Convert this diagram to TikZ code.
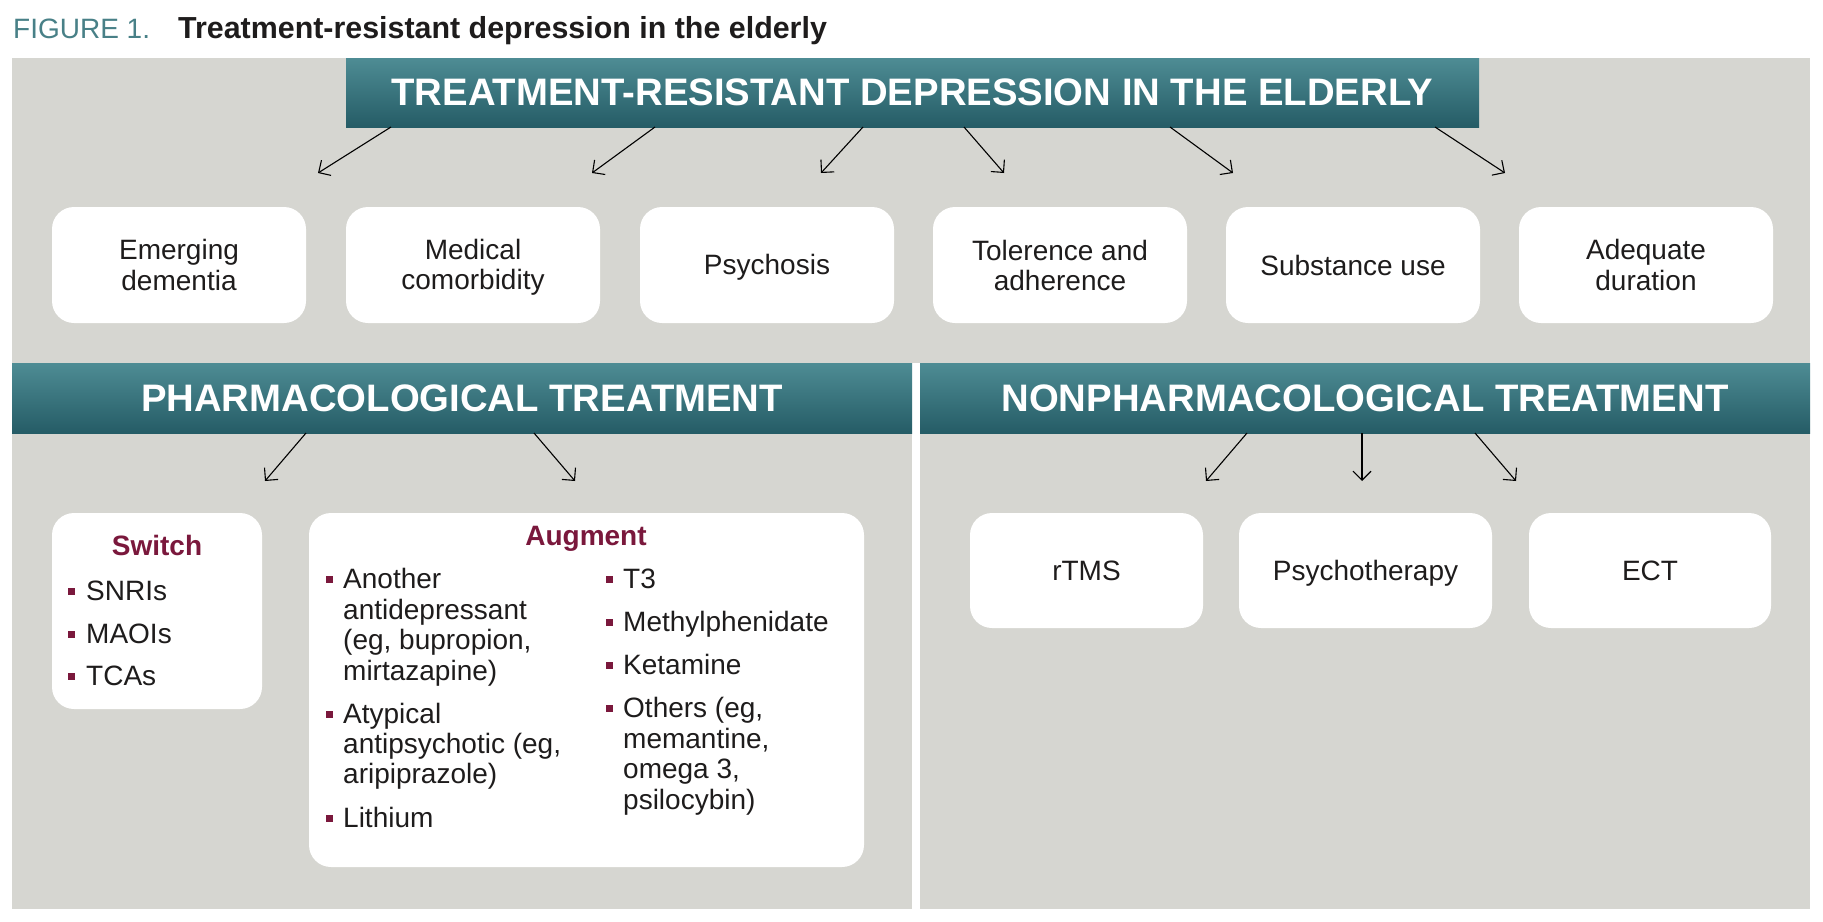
\documentclass[tikz,border=0pt]{standalone}
\usepackage{fontspec}
\setmainfont{Liberation Sans}
\usetikzlibrary{arrows.meta}
\definecolor{panelgray}{RGB}{214,214,209}
\definecolor{tealtop}{RGB}{78,140,148}
\definecolor{tealbot}{RGB}{37,92,102}
\definecolor{figteal}{RGB}{72,128,135}
\definecolor{maroonx}{RGB}{122,24,60}
\definecolor{ink}{RGB}{30,28,28}
\newcommand{\mystrut}{\rule[-5pt]{0pt}{30pt}}
\begin{document}
\begin{tikzpicture}[x=1pt,y=-1pt,
  banner/.style={rectangle, top color=tealtop, bottom color=tealbot, text=white,
    font=\fontsize{38.3}{42}\selectfont\bfseries, inner sep=0pt},
  card/.style={rectangle, rounded corners=22pt, fill=white, inner sep=0pt, text=ink,
    font=\fontsize{28}{30}\selectfont, align=center},
  conn/.style={draw=black, line width=1.1pt, -{Straight Barb[length=9pt,width=18pt]}},
  head/.style={anchor=base, inner sep=0pt, text=maroonx, font=\fontsize{28}{30}\selectfont\bfseries},
  itemtxt/.style={anchor=base west, inner sep=0pt, text=ink, font=\fontsize{28}{30}\selectfont},
  bul/.style={rectangle, fill=maroonx, minimum size=7pt, inner sep=0pt}
]
\useasboundingbox (0,0) rectangle (1823,921);
\fill[white] (0,0) rectangle (1823,921);
% title
\node[anchor=base west, inner sep=0pt, text=figteal, font=\fontsize{28}{30}\selectfont] (figlab) at (13,38) {FIGURE 1.};
\node[anchor=base west, inner sep=0pt, text=ink, font=\fontsize{30.4}{32}\selectfont\bfseries] (figtitle) at (178,38) {Treatment-resistant depression in the elderly};
% panel
\fill[panelgray] (12,58) rectangle (1810,909);
\fill[white] (912,363) rectangle (920,909);
% top banner
\node[banner, minimum width=1133pt, minimum height=69pt] (trd) at (912.5,92.5) {TREATMENT-RESISTANT DEPRESSION IN THE ELDERLY};
% six factor cards
\node[card, minimum width=254pt, minimum height=116pt] (c1) at (179,265) {\mystrut Emerging\\\mystrut dementia};
\node[card, minimum width=254pt, minimum height=116pt] (c2) at (473,265) {\mystrut Medical\\\mystrut comorbidity};
\node[card, minimum width=254pt, minimum height=116pt] (c3) at (767,265) {\mystrut Psychosis};
\node[card, minimum width=254pt, minimum height=116pt] (c4) at (1060,265) {\mystrut Tolerence and\\\mystrut adherence};
\node[card, minimum width=254pt, minimum height=116pt] (c5) at (1353,265) {\mystrut Substance use};
\node[card, minimum width=254pt, minimum height=116pt] (c6) at (1646,265) {\mystrut Adequate\\\mystrut duration};
% top arrows
\coordinate (s1) at (391,127); \coordinate (e1) at (318,173);
\coordinate (s2) at (655,127); \coordinate (e2) at (592,173);
\coordinate (s3) at (863,127); \coordinate (e3) at (821,173);
\coordinate (s4) at (964,127); \coordinate (e4) at (1004,173);
\coordinate (s5) at (1170,127); \coordinate (e5) at (1233,173);
\coordinate (s6) at (1435,127); \coordinate (e6) at (1505,173);
\foreach \i in {1,...,6} {\draw[conn] (s\i) -- (e\i);}
% second row banners
\node[banner, minimum width=900pt, minimum height=70pt] (pharm) at (462,398) {PHARMACOLOGICAL TREATMENT};
\node[banner, minimum width=890pt, minimum height=70pt] (nonpharm) at (1365,398) {NONPHARMACOLOGICAL TREATMENT};
% arrows from banners
\coordinate (ps1) at (306,433); \coordinate (pe1) at (265,481);
\coordinate (ps2) at (534,433); \coordinate (pe2) at (575,481);
\coordinate (ns1) at (1247,433); \coordinate (ne1) at (1206,481);
\coordinate (ns2) at (1362,433); \coordinate (ne2) at (1362,481);
\coordinate (ns3) at (1475,433); \coordinate (ne3) at (1516,481);
\draw[conn] (ps1) -- (pe1);
\draw[conn] (ps2) -- (pe2);
\draw[conn] (ns1) -- (ne1);
\draw[conn] (ns2) -- (ne2);
\draw[conn] (ns3) -- (ne3);
% pharmacological boxes
\node[card, minimum width=210pt, minimum height=196pt] (switch) at (157,611) {};
\node[card, minimum width=555pt, minimum height=354pt] (augment) at (586.5,690) {};
\node[head] (swh) at (157,555) {Switch};
\node[head] (augh) at (586,545) {Augment};
% switch items
\node[bul] (sb1) at (71,591) {}; \node[itemtxt] (st1) at (86,600) {SNRIs};
\node[bul] (sb2) at (71,634) {}; \node[itemtxt] (st2) at (86,643) {MAOIs};
\node[bul] (sb3) at (71,676) {}; \node[itemtxt] (st3) at (86,685) {TCAs};
% augment left column
\node[bul] (ab1) at (329,579) {}; \node[itemtxt] (at1) at (343,588) {Another};
\node[itemtxt] (at1b) at (343,619) {antidepressant};
\node[itemtxt] (at1c) at (343,649) {(eg, bupropion,};
\node[itemtxt] (at1d) at (343,680) {mirtazapine)};
\node[bul] (ab2) at (329,714) {}; \node[itemtxt] (at2) at (343,723) {Atypical};
\node[itemtxt] (at2b) at (343,753) {antipsychotic (eg,};
\node[itemtxt] (at2c) at (343,783) {aripiprazole)};
\node[bul] (ab3) at (329,818) {}; \node[itemtxt] (at3) at (343,827) {Lithium};
% augment right column
\node[bul] (rb1) at (609,579) {}; \node[itemtxt] (rt1) at (623,588) {T3};
\node[bul] (rb2) at (609,622) {}; \node[itemtxt] (rt2) at (623,631) {Methylphenidate};
\node[bul] (rb3) at (609,665) {}; \node[itemtxt] (rt3) at (623,674) {Ketamine};
\node[bul] (rb4) at (609,708) {}; \node[itemtxt] (rt4) at (623,717) {Others (eg,};
\node[itemtxt] (rt4b) at (623,748) {memantine,};
\node[itemtxt] (rt4c) at (623,778) {omega 3,};
\node[itemtxt] (rt4d) at (623,809) {psilocybin)};
% nonpharmacological boxes
\node[card, minimum width=233pt, minimum height=115pt] (rtms) at (1086.5,570.5) {\mystrut rTMS};
\node[card, minimum width=253pt, minimum height=115pt] (psy) at (1365.5,570.5) {\mystrut Psychotherapy};
\node[card, minimum width=242pt, minimum height=115pt] (ect) at (1650,570.5) {\mystrut ECT};
\end{tikzpicture}
\end{document}
